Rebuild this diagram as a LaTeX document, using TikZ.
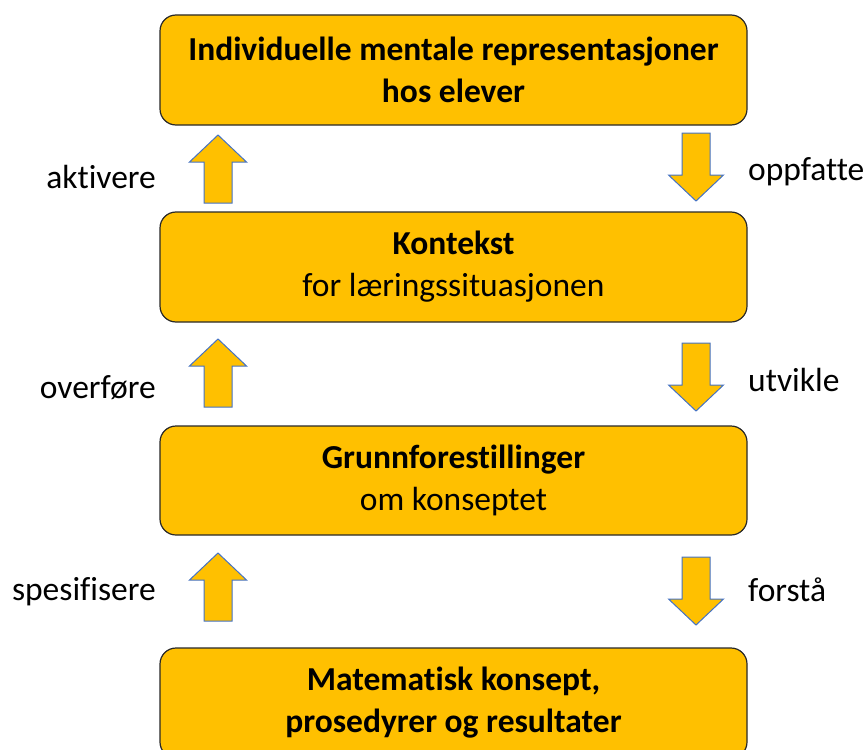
\documentclass[tikz,border=0pt]{standalone}
\usepackage{fontspec}
\setmainfont{Carlito}[Ligatures=NoCommon]
\usetikzlibrary{positioning,calc}
\definecolor{BoxClr}{RGB}{255,192,0}
\definecolor{EdgeClr}{RGB}{68,114,196}
\definecolor{LineClr}{RGB}{40,40,40}

\tikzset{
  stepbox/.style={draw=LineClr,line width=1.2pt,fill=BoxClr,rounded corners=16pt,
    minimum width=587pt,minimum height=110pt,align=center,
    font=\fontsize{33.5}{42}\selectfont},
  blockarrow/.style={draw=EdgeClr,fill=BoxClr,line width=1pt,line join=miter},
  verb/.style={font=\fontsize{33.5}{38}\selectfont,inner sep=0pt},
}

% block arrows: #1 = x of centre line, #2 = y of upper end
\newcommand{\UpArrow}[2]{%
  \draw[blockarrow] (#1,#2) -- ++(28.5,27) -- ++(-14.5,0) -- ++(0,41)
    -- ++(-28,0) -- ++(0,-41) -- ++(-14.5,0) -- cycle;}
\newcommand{\DownArrow}[2]{%
  \draw[blockarrow] ($(#1,#2)+(-14,0)$) -- ++(28,0) -- ++(0,42) -- ++(13.5,0)
    -- ++(-27.5,26) -- ++(-27.5,-26) -- ++(13.5,0) -- cycle;}

\begin{document}
\begin{tikzpicture}[x=1pt,y=-1pt]
\useasboundingbox (0,0) rectangle (866,749);
\clip (0,0) rectangle (866,749);

% boxes
\node[stepbox] (repr) at (453.5,70)
  {\textbf{Individuelle mentale representasjoner}\\\textbf{hos elever}};
\node[stepbox] (kontekst) at (453.5,267)
  {\textbf{Kontekst}\\for læringssituasjonen};
\node[stepbox,minimum height=109pt] (grunn) at (453.5,480.5)
  {\textbf{Grunnforestillinger}\\om konseptet};
\node[stepbox] (konsept) at (453.5,703)
  {\textbf{Matematisk konsept,}\\\textbf{prosedyrer og resultater}};

% arrows up (left) and down (right)
\UpArrow{218}{135}
\UpArrow{218}{339}
\UpArrow{218}{553}
\DownArrow{696}{133}
\DownArrow{696}{343}
\DownArrow{696}{557}

% labels
\node[verb,anchor=east] (aktivere) at (156,177) {aktivere};
\node[verb,anchor=east] (overfore) at (156,388) {overføre};
\node[verb,anchor=east] (spesifisere) at (156,592) {spesifisere};
\node[verb,anchor=west] (oppfatte) at (748,172) {oppfatte};
\node[verb,anchor=west] (utvikle) at (748,380) {utvikle};
\node[verb,anchor=west] (forsta) at (748,590) {forstå};
\end{tikzpicture}
\end{document}
